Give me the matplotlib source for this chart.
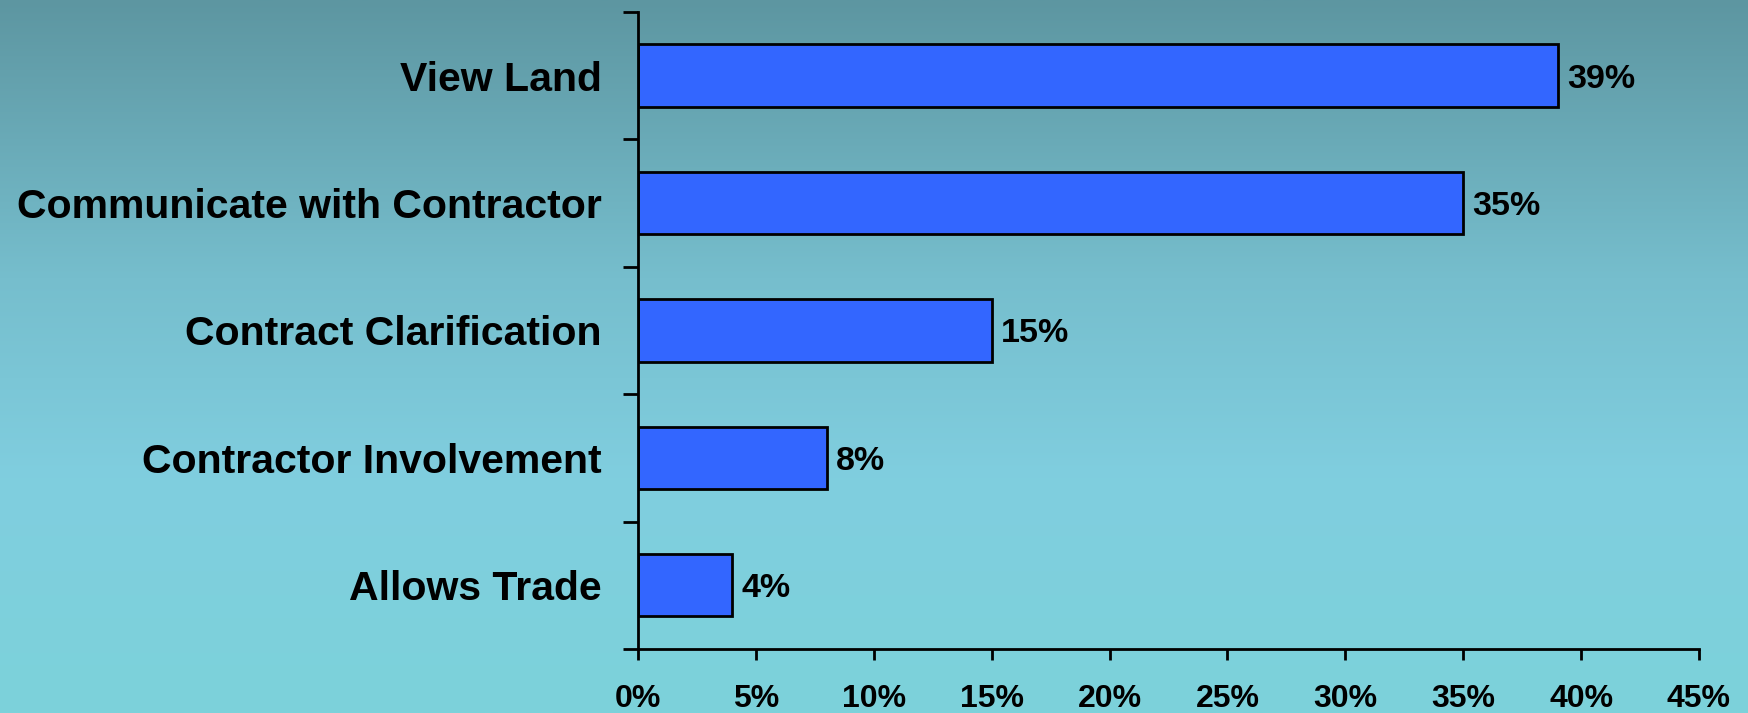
import matplotlib.pyplot as plt
import numpy as np
from matplotlib.ticker import FixedLocator, PercentFormatter

categories = ["View Land", "Communicate with Contractor", "Contract Clarification",
              "Contractor Involvement", "Allows Trade"]
values = [39, 35, 15, 8, 4]
xticks = [0, 5, 10, 15, 20, 25, 30, 35, 40, 45]

plt.rcParams['font.family'] = ['Liberation Sans', 'DejaVu Sans']
plt.rcParams['font.weight'] = 'bold'

fig = plt.figure(figsize=(17.49, 7.13), dpi=100)

# Background gradient (top -> bottom)
stops = [0.0, 0.39, 0.67, 1.0]
cols = np.array([[93, 150, 161], [118, 190, 205], [128, 206, 223], [124, 210, 218]]) / 255.0
t = np.linspace(0, 1, 512)
grad = np.stack([np.interp(t, stops, cols[:, k]) for k in range(3)], axis=1)
bg = fig.add_axes([0, 0, 1, 1], zorder=-10)
bg.imshow(grad[:, None, :], aspect='auto', extent=[0, 1, 0, 1])
bg.axis('off')

ax = fig.add_axes([0.3648, 0.0898, 0.9714 - 0.3648, 0.9832 - 0.0898])
ax.patch.set_alpha(0)

n = len(categories)
pos = np.arange(n)[::-1]
ax.barh(pos, values, height=0.49, color='#3366FF', edgecolor='black', linewidth=2)

for p, v in zip(pos, values):
    ax.text(v + 0.4, p, '{}%'.format(v), va='center_baseline', ha='left',
            fontsize=24.5, fontweight='bold', color='black')

ax.set_xlim(0, 45)
ax.set_ylim(-0.5, n - 0.5)
ax.set_xticks(xticks)
ax.xaxis.set_major_formatter(PercentFormatter(decimals=0))
ax.set_yticks(pos)
ax.set_yticklabels(categories)
ax.yaxis.set_minor_locator(FixedLocator(np.arange(-0.5, n, 1.0)))

ax.tick_params(axis='y', which='major', length=0, pad=26, labelsize=29.5)
ax.tick_params(axis='y', which='minor', length=11, width=2, direction='out')
ax.tick_params(axis='x', which='major', length=8, width=2, direction='out',
               pad=17, labelsize=23)
for lab in ax.get_xticklabels() + ax.get_yticklabels():
    lab.set_fontweight('bold')

for s in ['top', 'right']:
    ax.spines[s].set_visible(False)
for s in ['left', 'bottom']:
    ax.spines[s].set_linewidth(2)

fig.savefig('out.png', dpi=100)
